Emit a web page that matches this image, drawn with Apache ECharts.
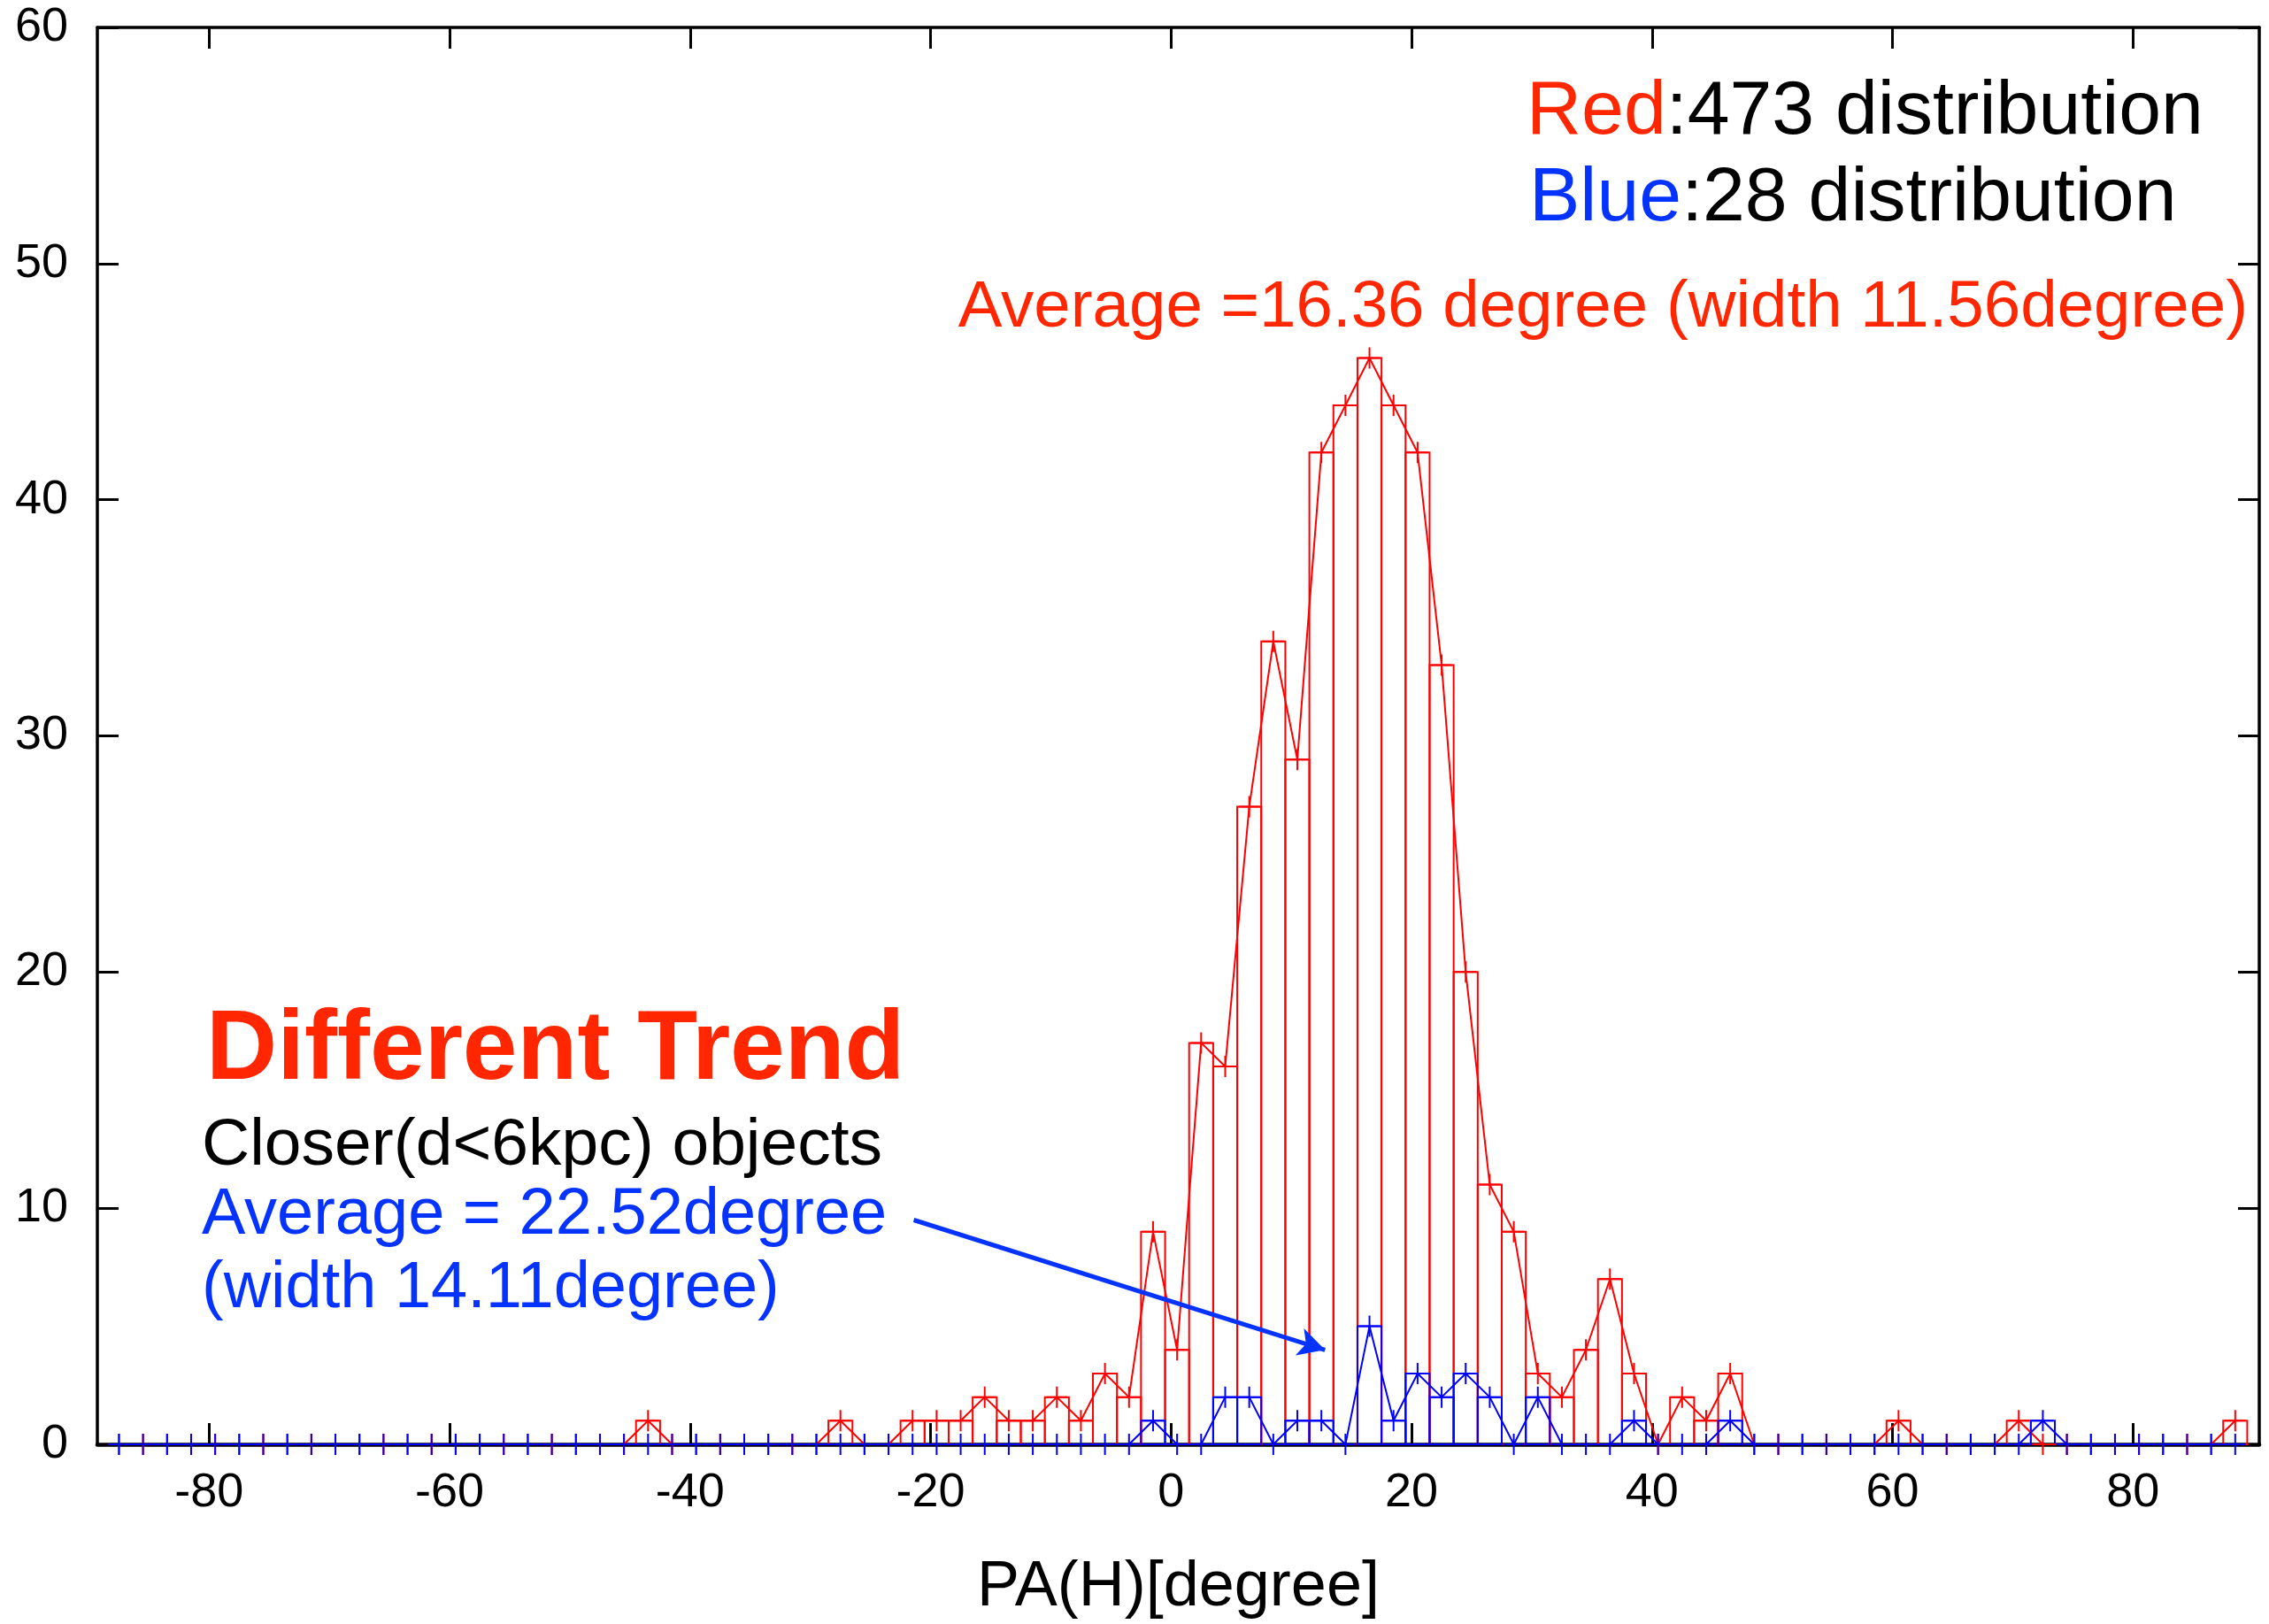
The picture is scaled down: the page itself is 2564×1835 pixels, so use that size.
<!DOCTYPE html>
<html><head><meta charset="utf-8">
<script src="https://cdn.jsdelivr.net/npm/echarts@6/dist/echarts.min.js"></script>
<style>html,body{margin:0;padding:0;background:#fff}#c{width:2564px;height:1835px}</style>
</head><body><div id="c"></div>
<script>
// Bin centres of the 2-degree histogram bins (PA(H) in degrees)
const binCenters = [
  -87.5,-85.5,-83.5,-81.5,-79.5,-77.5,-75.5,-73.5,-71.5,-69.5,
  -67.5,-65.5,-63.5,-61.5,-59.5,-57.5,-55.5,-53.5,-51.5,-49.5,
  -47.5,-45.5,-43.5,-41.5,-39.5,-37.5,-35.5,-33.5,-31.5,-29.5,
  -27.5,-25.5,-23.5,-21.5,-19.5,-17.5,-15.5,-13.5,-11.5,-9.5,
  -7.5,-5.5,-3.5,-1.5,0.5,2.5,4.5,6.5,8.5,10.5,
  12.5,14.5,16.5,18.5,20.5,22.5,24.5,26.5,28.5,30.5,
  32.5,34.5,36.5,38.5,40.5,42.5,44.5,46.5,48.5,50.5,
  52.5,54.5,56.5,58.5,60.5,62.5,64.5,66.5,68.5,70.5,
  72.5,74.5,76.5,78.5,80.5,82.5,84.5,86.5,88.5
];
// Red: 473 distribution (counts per bin)
const redCounts = [
  0,0,0,0,0,0,0,0,0,0,
  0,0,0,0,0,0,0,0,0,0,
  0,0,1,0,0,0,0,0,0,0,
  1,0,0,1,1,1,2,1,1,2,
  1,3,2,9,4,17,16,27,34,29,
  42,44,46,44,42,33,20,11,9,3,
  2,4,7,3,0,2,1,3,0,0,
  0,0,0,0,1,0,0,0,0,1,
  0,0,0,0,0,0,0,0,1
];
// Blue: 28 distribution (counts per bin)
const blueCounts = [
  0,0,0,0,0,0,0,0,0,0,
  0,0,0,0,0,0,0,0,0,0,
  0,0,0,0,0,0,0,0,0,0,
  0,0,0,0,0,0,0,0,0,0,
  0,0,0,1,0,0,2,2,0,1,
  1,0,5,1,3,2,3,2,0,2,
  0,0,0,1,0,0,0,1,0,0,
  0,0,0,0,0,0,0,0,0,0,
  1,0,0,0,0,0,0,0,0
];
const xTickValues = [-80,-60,-40,-20,0,20,40,60,80];
const yTickLabels = [0,10,20,30,40,50,60];
const BIN_WIDTH = 2;
// annotation arrow (data coordinates): from text to blue peak
const arrowStart = [-21.4, 9.5];
const arrowEnd = [12.8, 4.0];

const FONT = '"Liberation Sans", Arial, Helvetica, sans-serif';
const RED = '#ff0000', BLUE = '#0000ff';
const TXT_RED = '#ff2600', TXT_BLUE = '#0433ff';

const redData = binCenters.map((c, i) => [c, redCounts[i]]);
const blueData = binCenters.map((c, i) => [c, blueCounts[i]]);

function boxRender(color) {
  return function (params, api) {
    const c = api.value(0), v = api.value(1);
    if (!v) return null;
    const tl = api.coord([c - BIN_WIDTH / 2, v]);
    const br = api.coord([c + BIN_WIDTH / 2, 0]);
    return {
      type: 'rect',
      shape: { x: tl[0], y: tl[1], width: br[0] - tl[0], height: br[1] - tl[1] },
      style: { fill: 'none', stroke: color, lineWidth: 2 }
    };
  };
}
const PLUS = 'path://M11 0H13V11H24V13H13V24H11V13H0V11H11Z';

const chart = echarts.init(document.getElementById('c'), null, { renderer: 'canvas' });
const axisFont = { fontFamily: FONT, fontSize: 54, color: '#000' };
chart.setOption({
  animation: false,
  backgroundColor: '#fff',
  grid: { left: 110, right: 11, top: 31, bottom: 198, containLabel: false },
  xAxis: [
    {
      type: 'value', min: -89.3, max: 90.5, position: 'bottom',
      axisLine: { show: true, onZero: false, lineStyle: { color: '#000', width: 4.5 } },
      axisTick: { show: true, inside: true, length: 24, customValues: xTickValues, lineStyle: { color: '#000', width: 3 } },
      axisLabel: Object.assign({ show: true, margin: 28, customValues: xTickValues }, axisFont),
      splitLine: { show: false },
      name: 'PA(H)[degree]', nameLocation: 'middle', nameGap: 126,
      nameTextStyle: { fontFamily: FONT, fontSize: 72, color: '#000' }
    },
    {
      type: 'value', min: -89.3, max: 90.5, position: 'top',
      axisLine: { show: true, onZero: false, lineStyle: { color: '#000', width: 3.5 } },
      axisTick: { show: true, inside: true, length: 24, customValues: xTickValues, lineStyle: { color: '#000', width: 3 } },
      axisLabel: { show: false },
      splitLine: { show: false }
    }
  ],
  yAxis: [
    {
      type: 'value', min: 0, max: 60, interval: 10, position: 'left',
      axisLine: { show: true, onZero: false, lineStyle: { color: '#000', width: 3.5 } },
      axisTick: { show: true, inside: true, length: 24, lineStyle: { color: '#000', width: 3 } },
      axisLabel: Object.assign({ show: true, margin: 33, customValues: yTickLabels }, axisFont),
      splitLine: { show: false }
    },
    {
      type: 'value', min: 0, max: 60, interval: 10, position: 'right',
      axisLine: { show: true, onZero: false, lineStyle: { color: '#000', width: 3.5 } },
      axisTick: { show: true, inside: true, length: 24, lineStyle: { color: '#000', width: 3 } },
      axisLabel: { show: false },
      splitLine: { show: false }
    }
  ],
  series: [
    { type: 'custom', name: 'redBars', xAxisIndex: 0, yAxisIndex: 0, data: redData, renderItem: boxRender(RED), z: 2, silent: true },
    { type: 'custom', name: 'blueBars', xAxisIndex: 0, yAxisIndex: 0, data: blueData, renderItem: boxRender(BLUE), z: 3, silent: true },
    {
      type: 'line', name: 'Red', data: redData, z: 4, silent: true,
      symbol: PLUS, symbolSize: 24, showAllSymbol: true,
      itemStyle: { color: RED }, lineStyle: { color: RED, width: 2 },
      emphasis: { disabled: true }
    },
    {
      type: 'line', name: 'Blue', data: blueData, z: 5, silent: true,
      symbol: PLUS, symbolSize: 24, showAllSymbol: true,
      itemStyle: { color: BLUE }, lineStyle: { color: BLUE, width: 2 },
      emphasis: { disabled: true },
      markLine: {
        silent: true, animation: false,
        symbol: ['none', 'arrow'], symbolSize: [24, 30],
        label: { show: false },
        lineStyle: { color: TXT_BLUE, width: 5, type: 'solid' },
        emphasis: { disabled: true },
        data: [[{ coord: arrowStart }, { coord: arrowEnd }]]
      }
    }
  ],
  graphic: [
    { type: 'text', x: 1725, y: 151 - 24, style: {
        text: '{r|Red}:473 distribution', fontFamily: FONT, fontSize: 86, fill: '#000', verticalAlign: 'middle',
        rich: { r: { fill: TXT_RED, fontFamily: FONT, fontSize: 86 } } } },
    { type: 'text', x: 1728, y: 249 - 24, style: {
        text: '{b|Blue}:28 distribution', fontFamily: FONT, fontSize: 86, fill: '#000', verticalAlign: 'middle',
        rich: { b: { fill: TXT_BLUE, fontFamily: FONT, fontSize: 86 } } } },
    { type: 'text', x: 2540, y: 369 - 21, style: {
        text: 'Average =16.36 degree (width 11.56degree)', fontFamily: FONT, fontSize: 74.5, fill: TXT_RED,
        align: 'right', verticalAlign: 'middle' } },
    { type: 'text', x: 233, y: 1220 - 32, style: {
        text: 'Different Trend', fontFamily: FONT, fontSize: 111, fontWeight: 'bold', fill: TXT_RED, verticalAlign: 'middle' } },
    { type: 'text', x: 228, y: 1317 - 22, style: {
        text: 'Closer(d<6kpc) objects', fontFamily: FONT, fontSize: 75, fill: '#000', verticalAlign: 'middle' } },
    { type: 'text', x: 228, y: 1395 - 21, style: {
        text: 'Average = 22.52degree', fontFamily: FONT, fontSize: 74, fill: TXT_BLUE, verticalAlign: 'middle' } },
    { type: 'text', x: 228, y: 1478 - 21, style: {
        text: '(width 14.11degree)', fontFamily: FONT, fontSize: 74, fill: TXT_BLUE, verticalAlign: 'middle' } }
  ]
});
</script>
</body></html>
